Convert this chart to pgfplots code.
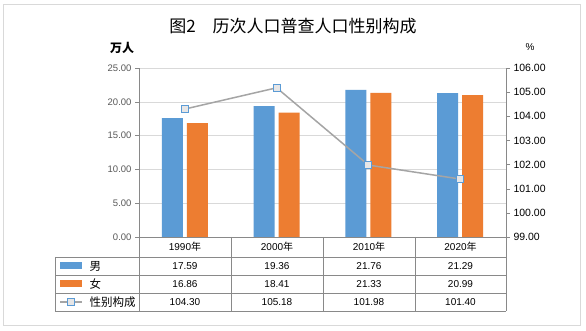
\documentclass[border=0pt]{standalone}
\usepackage{pgfplots}
\pgfplotsset{compat=1.18}
\usepackage{fontspec}
\setmainfont{Liberation Sans}
\newfontfamily\cjk{Noto Sans CJK SC}
\definecolor{cblue}{HTML}{5B9BD5}
\definecolor{corange}{HTML}{ED7D31}
\definecolor{lgray}{HTML}{A5A5A5}
\definecolor{mfill}{HTML}{E7E6E6}
\definecolor{gridgray}{HTML}{D9D9D9}
\definecolor{axgray}{HTML}{898989}
\definecolor{ticktext}{HTML}{595959}
\definecolor{framegray}{HTML}{D9D9D9}
\begin{document}
\begin{tikzpicture}[x=1pt,y=1pt]
\useasboundingbox (0,0) rectangle (586,331);
\fill[white] (0,0) rectangle (586,331);
\draw[framegray] (3.5,6) rectangle (580.5,327);
% title and unit labels
\node[font=\cjk\fontsize{17}{18}\selectfont] at (293,305) {图2　历次人口普查人口性别构成};
\node[font=\cjk\bfseries\fontsize{12}{13}\selectfont] at (122,283) {万人};
\node[font=\fontsize{10}{11}\selectfont] at (530,284) {\%};
\begin{axis}[
  at={(139pt,94pt)}, anchor=south west, scale only axis,
  width=367pt, height=169pt,
  xmin=-0.5, xmax=3.5, ymin=0, ymax=25,
  xtick=\empty, ytick={0,5,...,25},
  axis y line*=left, axis x line*=bottom,
  axis line style={axgray},
  ymajorgrids, grid style={gridgray},
  tick style={axgray}, tick align=outside, major tick length=4pt,
  /pgf/number format/assume math mode=true,
  yticklabel style={font=\fontsize{9.5}{10}\selectfont, text=ticktext,
    /pgf/number format/.cd, fixed, fixed zerofill, precision=2},
  ybar, bar width=21pt,
]
\addplot[fill=cblue, draw=none, bar shift=-12.5pt] coordinates {(0,17.59) (1,19.36) (2,21.76) (3,21.29)};
\addplot[fill=corange, draw=none, bar shift=12.5pt] coordinates {(0,16.86) (1,18.41) (2,21.33) (3,20.99)};
\end{axis}
\begin{axis}[
  at={(139pt,94pt)}, anchor=south west, scale only axis,
  width=367pt, height=169pt,
  xmin=-0.5, xmax=3.5, ymin=99, ymax=106,
  xtick=\empty, ytick={99,100,...,106},
  axis y line*=right, axis x line=none,
  axis line style={axgray},
  tick style={axgray}, tick align=outside, major tick length=4pt,
  /pgf/number format/assume math mode=true,
  yticklabel style={font=\fontsize{10.5}{11}\selectfont, text=black,
    /pgf/number format/.cd, fixed, fixed zerofill, precision=2},
]
\addplot[lgray, line width=1.5pt, mark=square*, mark size=3.5pt,
  mark options={fill=mfill, draw=cblue, line width=1pt}]
  coordinates {(0,104.30) (1,105.18) (2,101.98) (3,101.40)};
\end{axis}
% data table
\begin{scope}[axgray, line width=0.8pt]
\draw (55,74) -- (506,74);
\draw (55,56) -- (506,56);
\draw (55,38) -- (506,38);
\draw (55,20) -- (506,20);
\draw (55,74) -- (55,20);
\draw (139,94) -- (139,20);
\draw (231,94) -- (231,20);
\draw (323,94) -- (323,20);
\draw (415,94) -- (415,20);
\draw (506,94) -- (506,20);
\end{scope}
\fill[cblue] (60,61.5) rectangle (82,68.5);
\fill[corange] (60,43.5) rectangle (82,50.5);
\draw[lgray, line width=1.5pt] (60,29) -- (82,29);
\filldraw[fill=mfill, draw=cblue, line width=1pt] (67.5,25.5) rectangle (74.5,32.5);
\begin{scope}[every node/.style={font=\cjk\fontsize{11.5}{12}\selectfont, anchor=west}]
\node at (86,65) {男};
\node at (86,47) {女};
\node at (86,29) {性别构成};
\end{scope}
\begin{scope}[every node/.style={font=\fontsize{10}{11}\selectfont}]
\node at (185,84) {1990{\cjk 年}};
\node at (277,84) {2000{\cjk 年}};
\node at (369,84) {2010{\cjk 年}};
\node at (460.5,84) {2020{\cjk 年}};
\node at (185,65) {17.59};
\node at (277,65) {19.36};
\node at (369,65) {21.76};
\node at (460.5,65) {21.29};
\node at (185,47) {16.86};
\node at (277,47) {18.41};
\node at (369,47) {21.33};
\node at (460.5,47) {20.99};
\node at (185,29) {104.30};
\node at (277,29) {105.18};
\node at (369,29) {101.98};
\node at (460.5,29) {101.40};
\end{scope}
\end{tikzpicture}
\end{document}
